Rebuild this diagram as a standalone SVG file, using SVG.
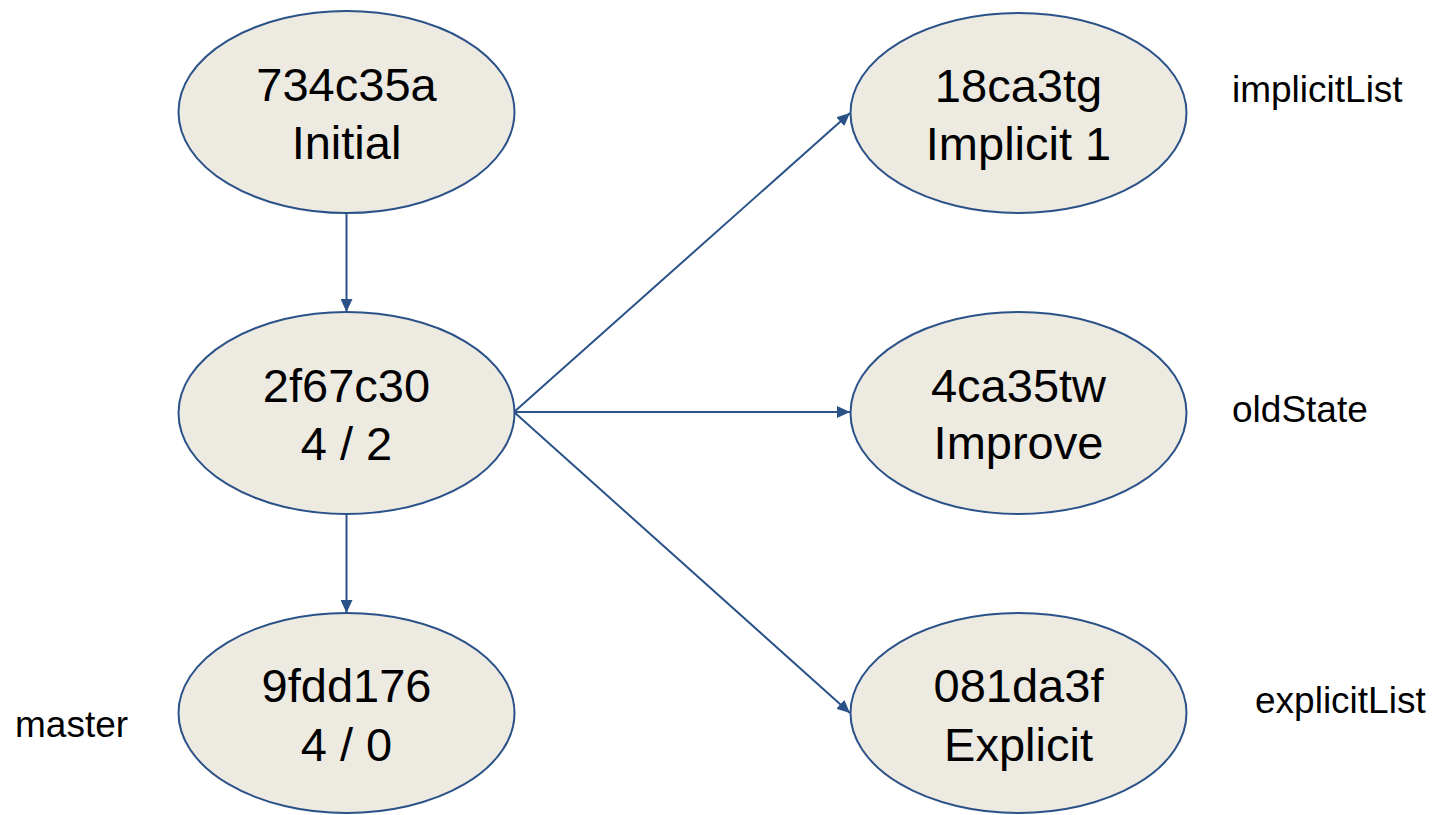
<svg xmlns="http://www.w3.org/2000/svg" width="1432" height="815" viewBox="0 0 1432 815">
<style>
.node ellipse{fill:#edebe1;stroke:#2b5288;stroke-width:2}
.node text{font-family:"Liberation Sans",Arial,sans-serif;font-size:47px;fill:#000;text-anchor:middle}
.lbl{font-family:"Liberation Sans",Arial,sans-serif;font-size:37px;fill:#000}
.edge{stroke:#2b5288;stroke-width:2;fill:none;marker-end:url(#arr)}
</style>
<defs>
<marker id="arr" markerUnits="userSpaceOnUse" markerWidth="14" markerHeight="12" refX="13" refY="6" orient="auto">
<path d="M0,0 L13,6 L0,12 Z" fill="#2b5288"/>
</marker>
</defs>
<rect width="1432" height="815" fill="#fff"/>
<g id="connectors">
<line class="edge" x1="346.5" y1="213" x2="346.5" y2="312"/>
<line class="edge" x1="346.5" y1="515" x2="346.5" y2="613"/>
<line class="edge" x1="514" y1="412" x2="850" y2="113"/>
<line class="edge" x1="514" y1="412" x2="850" y2="412"/>
<line class="edge" x1="514" y1="412" x2="850" y2="713"/>
</g>
<g id="n734c35a" class="node">
<ellipse cx="346.5" cy="112" rx="168" ry="101"/>
<text x="346.5" y="101">734c35a</text>
<text x="346.5" y="159">Initial</text>
</g>
<g id="n2f67c30" class="node">
<ellipse cx="346.5" cy="413" rx="168" ry="101"/>
<text x="346.5" y="402">2f67c30</text>
<text x="346.5" y="460">4 / 2</text>
</g>
<g id="n9fdd176" class="node">
<ellipse cx="346.5" cy="713" rx="168" ry="100"/>
<text x="346.5" y="702">9fdd176</text>
<text x="346.5" y="761">4 / 0</text>
</g>
<g id="n18ca3tg" class="node">
<ellipse cx="1018.5" cy="113" rx="168" ry="100"/>
<text x="1018.5" y="102">18ca3tg</text>
<text x="1018.5" y="160">Implicit 1</text>
</g>
<g id="n4ca35tw" class="node">
<ellipse cx="1018.5" cy="413" rx="168" ry="101"/>
<text x="1018.5" y="402">4ca35tw</text>
<text x="1018.5" y="459">Improve</text>
</g>
<g id="n081da3f" class="node">
<ellipse cx="1018.5" cy="713" rx="168" ry="100"/>
<text x="1018.5" y="702">081da3f</text>
<text x="1018.5" y="761">Explicit</text>
</g>
<g id="labels">
<text class="lbl" x="1232" y="102">implicitList</text>
<text class="lbl" x="1232" y="422">oldState</text>
<text class="lbl" x="1255" y="713">explicitList</text>
<text class="lbl" x="15" y="737">master</text>
</g>
</svg>
